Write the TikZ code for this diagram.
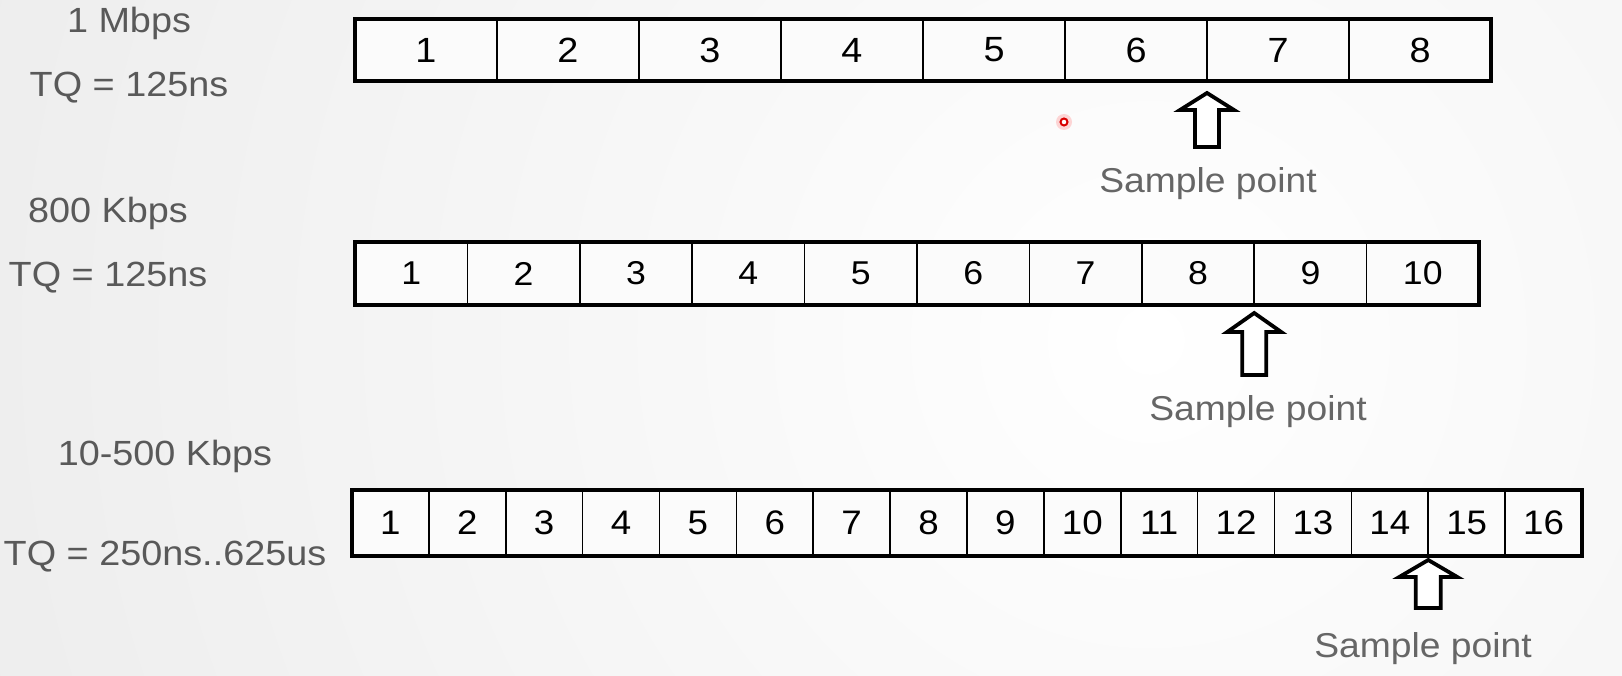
\documentclass[tikz,border=0pt]{standalone}
\usepackage{fontspec}
\setmainfont{Liberation Sans}[FakeStretch=1.08]
\definecolor{labelgray}{HTML}{595959}
\definecolor{samplegray}{HTML}{666666}
\definecolor{cellfill}{HTML}{FBFBFB}
\definecolor{bgouter}{HTML}{ECECEC}
\tikzset{
  cell/.style={draw=black, line width=1.6pt, fill=cellfill, inner sep=0pt, outer sep=0pt, anchor=west, text=black},
  frame/.style={draw=black, line width=4.5pt, line join=miter},
  blockarrow/.style={draw=black, fill=white, line width=3.8pt, line join=miter},
  ratelabel/.style={text=labelgray, font=\fontsize{35}{40}\selectfont, anchor=base, inner sep=0pt},
  samplelabel/.style={text=samplegray, font=\fontsize{34.5}{40}\selectfont, anchor=base, inner sep=0pt}
}
\begin{document}
\begin{tikzpicture}[x=1pt,y=-1pt]
\useasboundingbox (0,0) rectangle (1622,676);
\begin{scope}
\clip (0,0) rectangle (1622,676);
\fill[bgouter] (0,0) rectangle (1622,676);
\shade[inner color=white, outer color=bgouter] (1150,340) circle (1300);
\end{scope}

% laser-pointer dot
\fill[red!35, opacity=0.45] (1064,122) circle (8);
\draw[red!85!black, line width=2pt, fill=white] (1064,122) circle (3.5);

% Row 1: 1 Mbps
\node[ratelabel] (r1a) at (129,33) {1 Mbps};
\node[ratelabel] (r1b) at (129,97) {TQ = 125ns};
\foreach \i in {1,...,8}
  \node[cell, minimum width=142pt, minimum height=62pt, font=\fontsize{35}{40}\selectfont] (a\i) at ({355+142*(\i-1)},50) {\i};
\draw[frame] (a1.north west) rectangle (a8.south east);
\draw[blockarrow, shift={(a6.south east)}] (0,12) -- (27,29) -- (12,29) -- (12,66) -- (-12,66) -- (-12,29) -- (-27,29) -- cycle;
\node[samplelabel] (sp1) at (1208,193) {Sample point};

% Row 2: 800 Kbps
\node[ratelabel] (r2a) at (108,223) {800 Kbps};
\node[ratelabel] (r2b) at (108,287) {TQ = 125ns};
\foreach \i in {1,...,10}
  \node[cell, minimum width=112.4pt, minimum height=63pt, font=\fontsize{33}{38}\selectfont] (b\i) at ({355+112.4*(\i-1)},273.5) {\i};
\draw[frame] (b1.north west) rectangle (b10.south east);
\draw[blockarrow, shift={(b8.south east)}] (0,8) -- (27,27) -- (12,27) -- (12,70) -- (-12,70) -- (-12,27) -- (-27,27) -- cycle;
\node[samplelabel] (sp2) at (1258,420) {Sample point};

% Row 3: 10-500 Kbps
\node[ratelabel] (r3a) at (165,465) {10-500 Kbps};
\node[ratelabel] (r3b) at (165,565) {TQ = 250ns..625us};
\foreach \i in {1,...,16}
  \node[cell, minimum width=76.875pt, minimum height=66pt, font=\fontsize{34}{39}\selectfont] (c\i) at ({352+76.875*(\i-1)},523) {\i};
\draw[frame] (c1.north west) rectangle (c16.south east);
\draw[blockarrow, shift={(c14.south east)}] (0,4) -- (29,21) -- (12.5,21) -- (12.5,52) -- (-12.5,52) -- (-12.5,21) -- (-29,21) -- cycle;
\node[samplelabel] (sp3) at (1423,657) {Sample point};
\end{tikzpicture}
\end{document}
